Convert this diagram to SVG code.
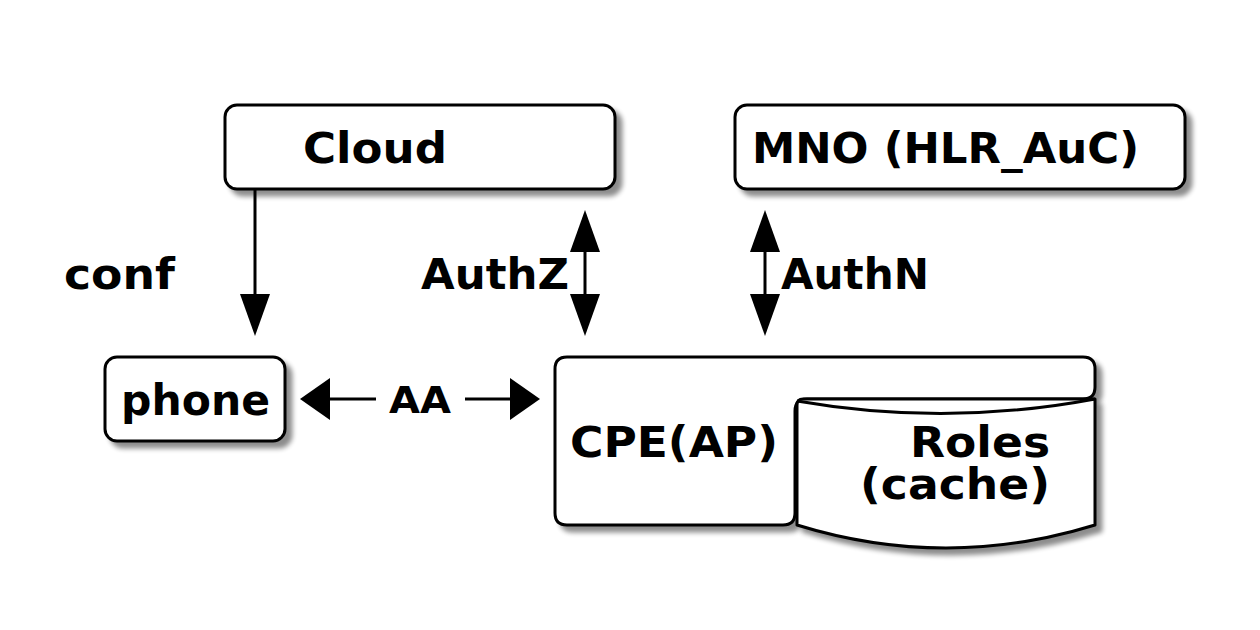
<svg xmlns="http://www.w3.org/2000/svg" width="1260" height="630" viewBox="0 0 1260 630">
<defs>
<filter id="sh" x="-10%" y="-10%" width="130%" height="140%">
<feGaussianBlur in="SourceAlpha" stdDeviation="2.5"/>
<feOffset dx="6" dy="6" result="b"/>
<feComponentTransfer in="b" result="s"><feFuncA type="linear" slope="0.45"/></feComponentTransfer>
<feMerge><feMergeNode in="s"/><feMergeNode in="SourceGraphic"/></feMerge>
</filter>
</defs>
<style>
.box{fill:#fff;stroke:#000;stroke-width:3;stroke-linejoin:round}
.ln{stroke:#000;stroke-width:3;fill:none}
.hd{fill:#000}
text{font-family:"DejaVu Sans","Liberation Sans",sans-serif;font-weight:bold;font-size:43px;fill:#000}
</style>
<rect width="1260" height="630" fill="#fff"/>
<g id="cloud">
<rect class="box" filter="url(#sh)" x="225" y="105" width="390" height="84" rx="12"/>
<text x="303" y="163" textLength="144" lengthAdjust="spacingAndGlyphs">Cloud</text>
</g>
<g id="mno">
<rect class="box" filter="url(#sh)" x="735" y="105" width="450" height="84" rx="12"/>
<text x="752" y="163" textLength="387" lengthAdjust="spacingAndGlyphs">MNO (HLR_AuC)</text>
</g>
<g id="phone">
<rect class="box" filter="url(#sh)" x="105" y="357" width="180" height="84" rx="12"/>
<text x="121" y="415" textLength="149" lengthAdjust="spacingAndGlyphs">phone</text>
</g>
<g id="cpe">
<path class="box" filter="url(#sh)" d="M567,357 H1083 Q1095,357 1095,369 V387 Q1095,399 1083,399 H807 Q795,399 795,411 V513 Q795,525 783,525 H567 Q555,525 555,513 V369 Q555,357 567,357 Z"/>
<text x="570" y="457" textLength="208" lengthAdjust="spacingAndGlyphs">CPE(AP)</text>
</g>
<g id="roles">
<path class="box" filter="url(#sh)" d="M797,525 V405 Q797,399 803,399 H1095 V525 Q946,571 797,525 Z"/>
<path class="ln" d="M797,401 Q946,427 1095,399"/>
<text x="910" y="457" textLength="140" lengthAdjust="spacingAndGlyphs">Roles</text>
<text x="860" y="499" textLength="190" lengthAdjust="spacingAndGlyphs">(cache)</text>
</g>
<g id="connectors">
<line class="ln" x1="255" y1="189" x2="255" y2="296"/>
<polygon class="hd" points="240,294 270,294 255,336"/>
<line class="ln" x1="585" y1="250" x2="585" y2="296"/>
<polygon class="hd" points="570,252 600,252 585,210"/>
<polygon class="hd" points="570,294 600,294 585,336"/>
<line class="ln" x1="765" y1="250" x2="765" y2="296"/>
<polygon class="hd" points="750,252 780,252 765,210"/>
<polygon class="hd" points="750,294 780,294 765,336"/>
<line class="ln" x1="328" y1="399" x2="376" y2="399"/>
<polygon class="hd" points="300,399 330,378 330,420"/>
<line class="ln" x1="465" y1="399" x2="512" y2="399"/>
<polygon class="hd" points="540,399 510,378 510,420"/>
<text x="64" y="289" textLength="111" lengthAdjust="spacingAndGlyphs">conf</text>
<text x="421" y="289" textLength="148" lengthAdjust="spacingAndGlyphs">AuthZ</text>
<text x="781" y="289" textLength="148" lengthAdjust="spacingAndGlyphs">AuthN</text>
<text x="389" y="413" style="font-size:37px" textLength="62" lengthAdjust="spacingAndGlyphs">AA</text>
</g>
</svg>
